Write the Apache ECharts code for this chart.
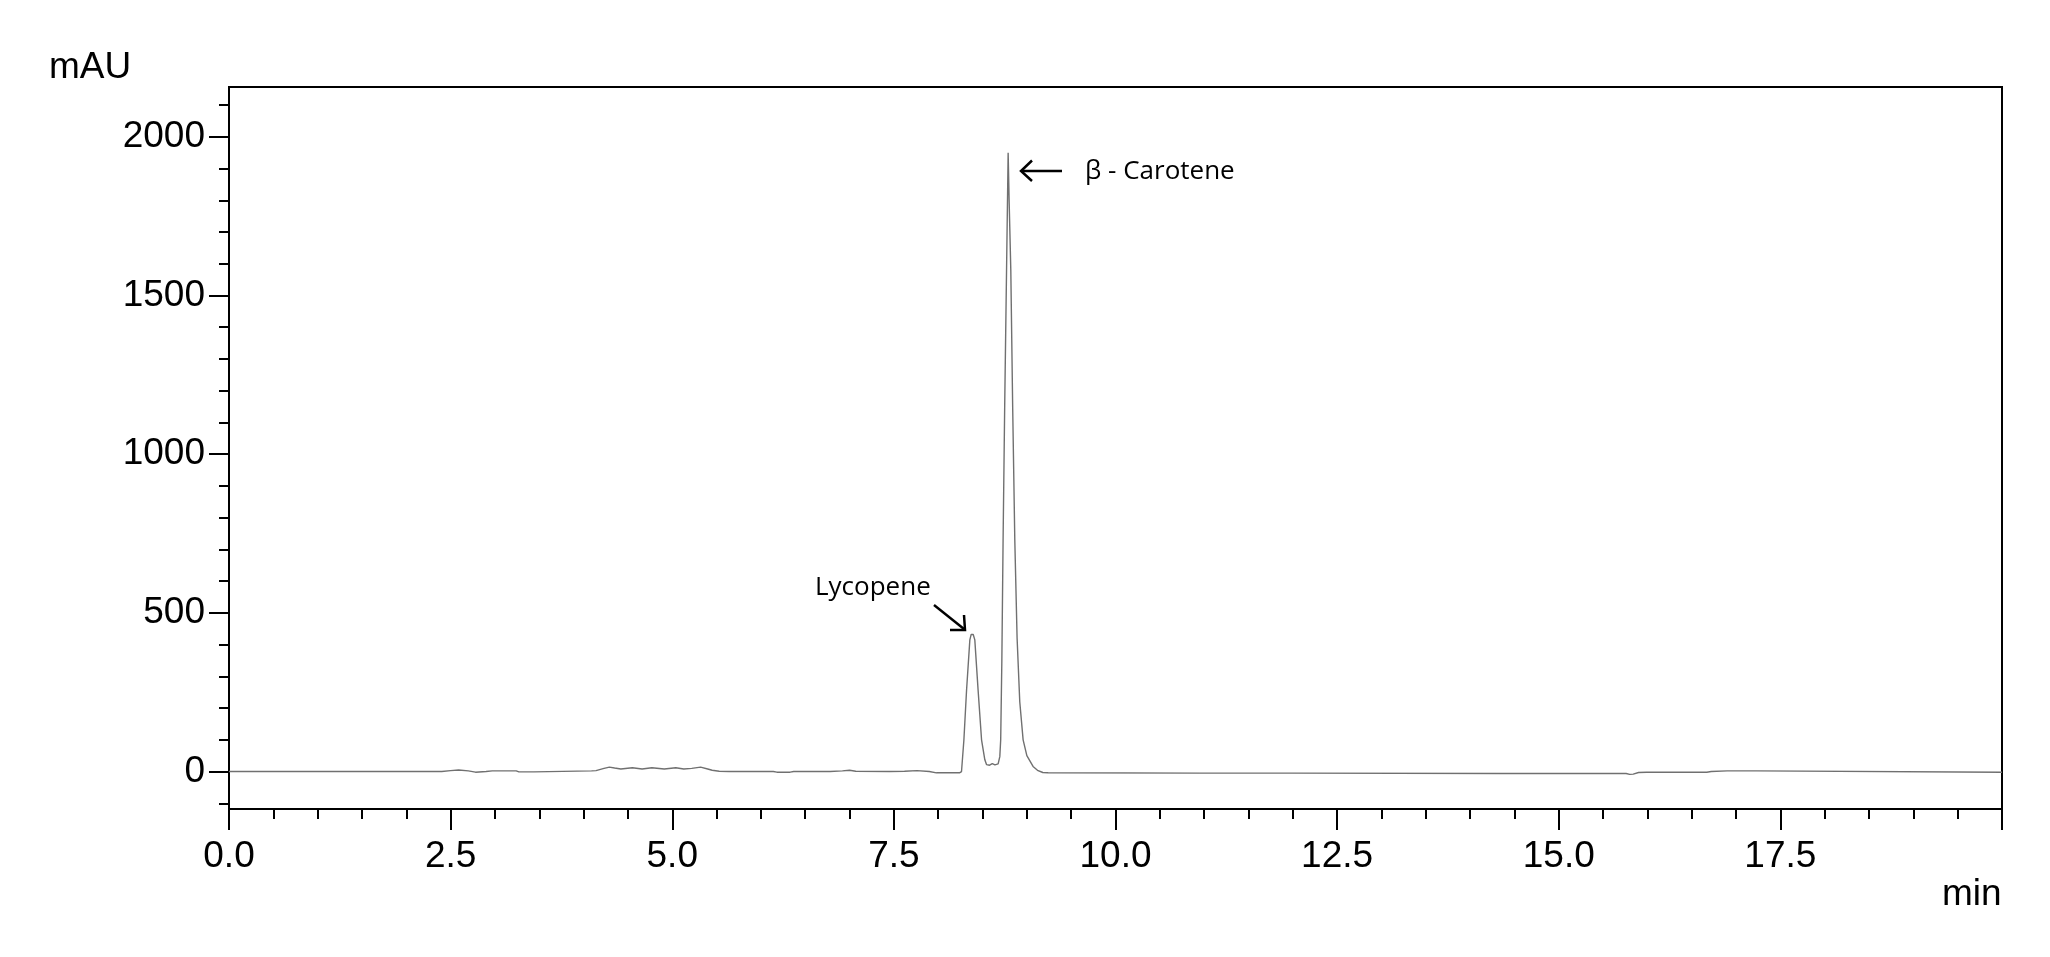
<!DOCTYPE html>
<html><head><meta charset="utf-8">
<script src="https://cdn.jsdelivr.net/npm/echarts@6/dist/echarts.min.js"></script>
<style>html,body{margin:0;padding:0;background:#fff}#c{width:2050px;height:957px}</style>
</head><body><div id="c"></div>
<script>
// Retention time (min) and detector signal (mAU)
const timesMin = [
  0, 2.40, 2.50, 2.59, 2.70, 2.78, 2.90, 2.97, 3.24, 3.27, 3.44, 3.46, 4.09, 4.14, 4.22, 4.29, 4.35,
  4.42, 4.55, 4.66, 4.77, 4.91, 5.04, 5.13, 5.22, 5.32, 5.40, 5.45, 5.53, 5.64, 6.14, 6.18, 6.33,
  6.37, 6.78, 6.92, 7.00, 7.07, 7.45, 7.62, 7.76, 7.90, 7.98, 8.24, 8.263, 8.29, 8.32, 8.357, 8.372, 8.383,
  8.395, 8.413, 8.45, 8.489, 8.526, 8.545, 8.58, 8.61, 8.64, 8.676, 8.695, 8.705, 8.718, 8.732, 8.75, 8.771,
  8.789, 8.80, 8.819, 8.84, 8.864, 8.89, 8.92, 8.958, 9.00, 9.07, 9.12, 9.18, 9.24, 10.95, 12.0,
  14.34, 15.76, 15.80, 15.84, 15.90, 15.99, 16.67, 16.72, 16.90, 17.23, 17.25, 20.0
];
const absorbance = [
  0, 0, 3, 5, 2, -2, 0, 2, 2, -1, -1, 2, 2, 3, 9, 14, 11,
  8, 12, 8, 12, 8, 12, 8, 10, 14, 8, 4, 1, 0, 0, -2, -2,
  0, 0, 2, 4, 1, 0, 1, 3, 0, -4, -4, 0, 100, 257, 415, 432, 438,
  432, 415, 257, 100, 37, 22, 20, 25, 21, 24, 47, 100, 350, 730, 1150, 1580,
  1950, 1800, 1580, 1150, 730, 420, 220, 100, 50, 16, 4, -3, -4, -5, -5,
  -6, -6, -9, -8, -3, -2, -2, 0, 2, 2, -2, -2
];
const yMajorTicks = [0, 500, 1000, 1500, 2000];
const yMinorTicks = [-100, 100, 200, 300, 400, 600, 700, 800, 900, 1100, 1200, 1300, 1400, 1600, 1700, 1800, 1900, 2100];
const xMin = 0, xMax = 20, xStep = 2.5;
const yMin = -118, yMax = 2157;
const peakLabels = ['Lycopene', 'β - Carotene'];
const xTitle = 'min', yTitle = 'mAU';

const points = timesMin.map((t, i) => [t, absorbance[i]]);
const axisStroke = { color: '#000', width: 2 };
const tickFont = { fontFamily: 'Liberation Sans, Arial, sans-serif', fontSize: 37, color: '#000' };

const chart = echarts.init(document.getElementById('c'));
chart.setOption({
  animation: false,
  backgroundColor: '#fff',
  grid: { left: 229, right: 48, top: 87, bottom: 148, show: true, borderColor: '#000', borderWidth: 2, backgroundColor: 'transparent' },
  xAxis: {
    type: 'value', min: xMin, max: xMax, interval: xStep,
    axisLine: { show: true, onZero: false, lineStyle: axisStroke },
    axisTick: { show: true, length: 21, lineStyle: axisStroke },
    minorTick: { show: true, splitNumber: 5, length: 10, lineStyle: axisStroke },
    splitLine: { show: false }, minorSplitLine: { show: false },
    axisLabel: Object.assign({ margin: 29, showMaxLabel: false,
      formatter: v => (v >= xMax ? '' : v.toFixed(1)) }, tickFont)
  },
  yAxis: [{
    type: 'value', min: yMin, max: yMax,
    axisLine: { show: true, onZero: false, lineStyle: axisStroke },
    axisTick: { show: true, length: 20, customValues: yMajorTicks, lineStyle: axisStroke },
    axisLabel: Object.assign({ margin: 24, customValues: yMajorTicks, formatter: v => String(v) }, tickFont),
    splitLine: { show: false }
  }, {
    type: 'value', min: yMin, max: yMax, position: 'left',
    axisLine: { show: false, onZero: false },
    axisTick: { show: true, length: 10, customValues: yMinorTicks, lineStyle: axisStroke },
    axisLabel: { show: false },
    splitLine: { show: false }
  }],
  series: [{
    type: 'line', data: points, xAxisIndex: 0, yAxisIndex: 0,
    symbol: 'none', showSymbol: false, silent: true,
    lineStyle: { color: '#707070', width: 1.4 }
  }],
  graphic: [
    { type: 'text', style: { text: yTitle, x: 49, y: 67.5, verticalAlign: 'middle', font: '37px "Liberation Sans", Arial, sans-serif', fill: '#000' } },
    { type: 'text', style: { text: xTitle, x: 1942, y: 895, verticalAlign: 'middle', font: '37px "Liberation Sans", Arial, sans-serif', fill: '#000' } },
    { type: 'text', style: { text: peakLabels[0], x: 815, y: 587.5, verticalAlign: 'middle', font: '26px "Open Sans", sans-serif', fill: '#000' } },
    { type: 'text', style: { text: peakLabels[1], x: 1085, y: 172, verticalAlign: 'middle', font: '26px "Open Sans", sans-serif', fill: '#000' } },
    { type: 'polyline', shape: { points: [[934, 605], [964, 629]] }, style: { stroke: '#000', lineWidth: 2.5, fill: null } },
    { type: 'polyline', shape: { points: [[950, 630], [965, 630], [964, 615]] }, style: { stroke: '#000', lineWidth: 2.5, fill: null } },
    { type: 'polyline', shape: { points: [[1062, 171], [1022, 171]] }, style: { stroke: '#000', lineWidth: 2.5, fill: null } },
    { type: 'polyline', shape: { points: [[1032, 160.5], [1021, 171], [1032, 181]] }, style: { stroke: '#000', lineWidth: 2.5, fill: null } }
  ]
});
</script>
</body></html>
